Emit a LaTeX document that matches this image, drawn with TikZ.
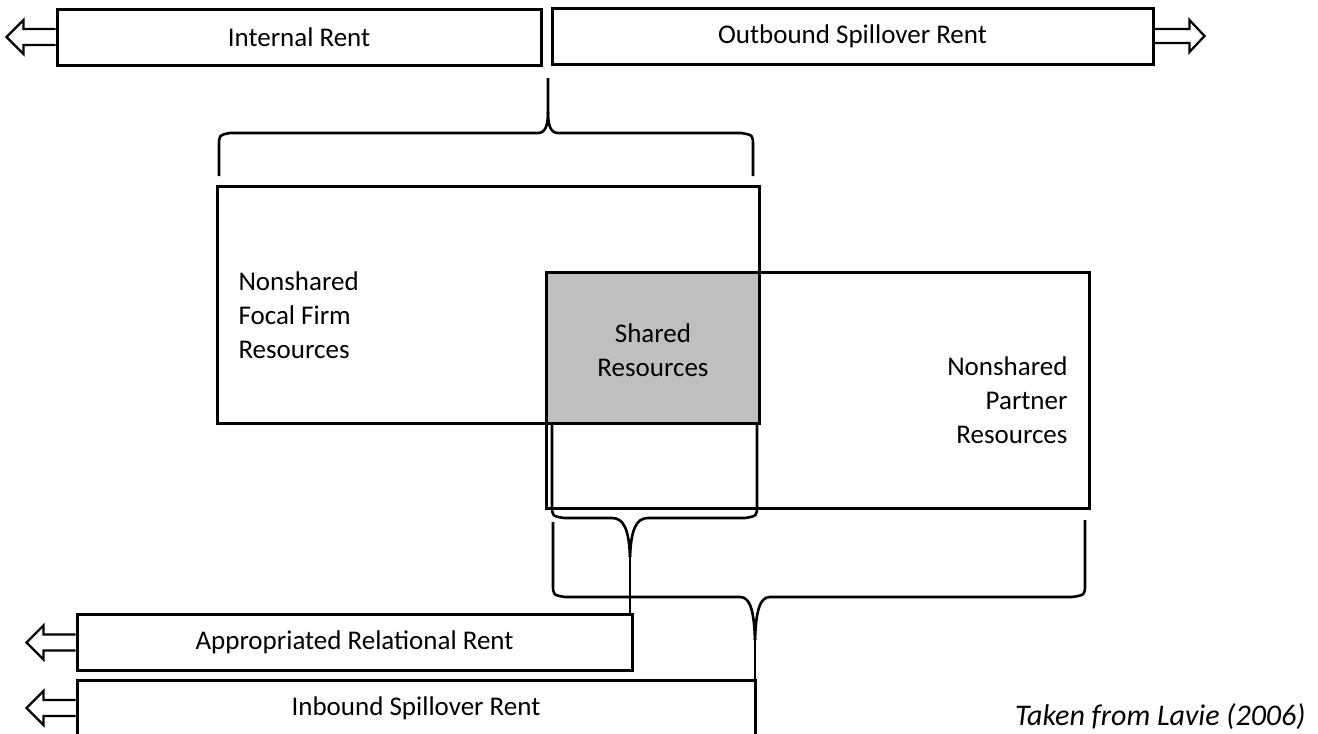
\documentclass[tikz,border=0pt]{standalone}
\usepackage{fontspec}
\setmainfont{Carlito}
\newcommand{\arrowleft}[1]{\draw[blockarrow] (#1) ++(0,-8) -- ++(-32,0) -- ++(0,-9) -- ++(-17,17) -- ++(17,17) -- ++(0,-9) -- ++(32,0);}
\newcommand{\arrowright}[1]{\draw[blockarrow] (#1) ++(0,-7) -- ++(35,0) -- ++(0,-9) -- ++(15,16) -- ++(-15,16) -- ++(0,-9) -- ++(-35,0);}
\begin{document}
\begin{tikzpicture}[x=1pt,y=-1pt,
  every node/.style={font=\fontsize{27}{34}\selectfont},
  rentbox/.style={draw,line width=3pt,minimum height=56pt,inner sep=0pt},
  resbox/.style={draw,line width=3pt,inner sep=0pt},
  bracket/.style={line width=2.6pt,line join=round},
  blockarrow/.style={line width=2.2pt,line join=miter}]
\useasboundingbox (0,0) rectangle (1318,734);
\clip (0,0) rectangle (1318,734);
% rents of the focal firm
\node[rentbox,minimum width=484pt] (internal) at (299,37) {Internal Rent};
\node[rentbox,minimum width=601pt] (outbound) at (852.5,36) {Outbound Spillover Rent};
\arrowleft{internal.west}
\arrowright{outbound.east}
% resources
\node[resbox,minimum width=542pt,minimum height=237pt] (focal) at (488,304.5) {};
\node[resbox,minimum width=543pt,minimum height=236pt] (partner) at (817.5,390) {};
\node[resbox,fill=black!25,minimum width=213pt,minimum height=151pt] (shared) at (652.5,347.5) {};
\node[anchor=west,align=left] (focaltxt) at (235,315) {Nonshared\\Focal Firm\\Resources};
\node[align=center] (sharedtxt) at (653,350) {Shared\\Resources};
\node[anchor=east,align=right] (partnertxt) at (1071,400) {Nonshared\\Partner\\Resources};
% rents of the partner side
\node[rentbox,minimum width=555pt] (approp) at (354.5,642.5) {Appropriated Relational Rent};
\node[rentbox,minimum width=678pt] (inbound) at (416,708) {Inbound Spillover Rent};
\arrowleft{approp.west}
\arrowleft{inbound.west}
\node[anchor=east,font=\fontsize{30}{36}\selectfont\itshape] (source) at (1309,717) {Taken from Lavie (2006)};
% braces
\coordinate (tipT) at (548,78);
\coordinate (tipA) at (630,557);
\coordinate (tipB) at (755,640);
\draw[bracket] (219,176) -- (219,146) .. controls (219,135) .. (230,133) -- (538,133)
  .. controls (545,133) and (548,126) .. (548,112) -- (tipT);
\draw[bracket] (548,112) .. controls (548,126) and (551,133) .. (558,133) -- (741,133)
  .. controls (753,135) .. (753,146) -- (753,176);
\draw[bracket] (552,423) -- (552,505) .. controls (552,516) .. (564,518) -- (612,518)
  .. controls (624,518) and (629,530) .. (tipA);
\draw[bracket] (tipA) .. controls (631,530) and (636,518) .. (648,518) -- (745,518)
  .. controls (757,516) .. (757,505) -- (757,423);
\draw[bracket] (tipA) -- (tipA |- approp.north);
\draw[bracket] (553,522) -- (553,584) .. controls (553,595) .. (565,597) -- (740,597)
  .. controls (750,597) and (754,610) .. (tipB);
\draw[bracket] (tipB) .. controls (756,610) and (760,597) .. (770,597) -- (1072,597)
  .. controls (1085,595) .. (1085,584) -- (1085,520);
\draw[bracket] (tipB) -- (tipB |- inbound.north);
\end{tikzpicture}
\end{document}
